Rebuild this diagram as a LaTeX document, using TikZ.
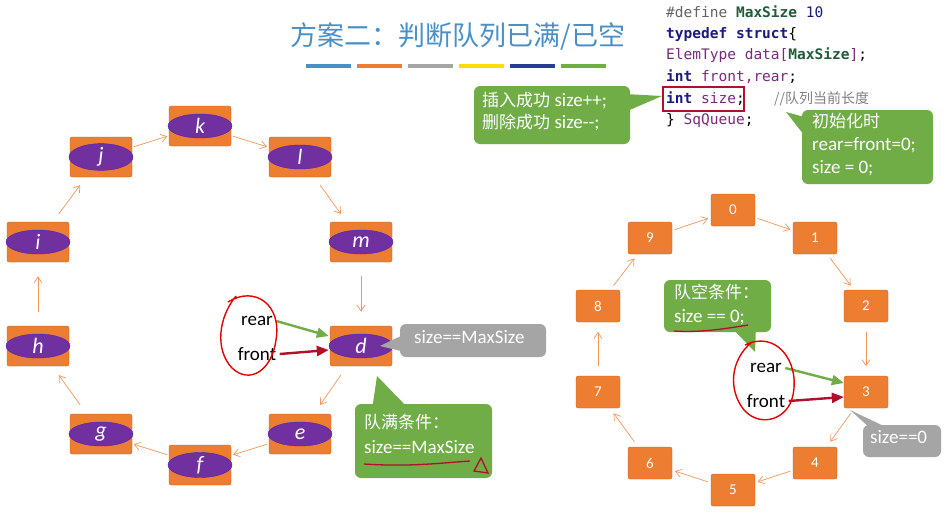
\documentclass[tikz,border=0pt]{standalone}
\usepackage{fontspec}
\setmainfont{Carlito}
\newfontfamily\cjk{Noto Sans CJK SC}
\newfontfamily\cmono{DejaVu Sans Mono}
\usetikzlibrary{arrows.meta,shapes.geometric,calc}
\definecolor{org}{HTML}{ED7D31}
\definecolor{pur}{HTML}{7030A0}
\definecolor{grn}{HTML}{70AD47}
\definecolor{gry}{HTML}{A5A5A5}
\definecolor{ttl}{HTML}{4A90C8}
\definecolor{kw}{HTML}{1A1A80}
\definecolor{vr}{HTML}{7A2A7A}
\definecolor{mc}{HTML}{1F5C3A}
\definecolor{dred}{HTML}{B0102A}
\newcommand\ct{\fontsize{19}{22}\selectfont}
\begin{document}
\begin{tikzpicture}[x=1pt,y=-1pt,
  box/.style={fill=org,draw=org!80!black,line width=0.3pt,rounded corners=2pt,minimum width=62pt,minimum height=40pt,inner sep=0},
  ell/.style={ellipse,fill=pur,draw=pur!70!blue,minimum width=64pt,minimum height=24pt,inner sep=0,text=white,font=\itshape\fontsize{22}{22}\selectfont},
  sbox/.style={fill=org,draw=org!80!black,line width=0.3pt,rounded corners=2pt,minimum width=44pt,minimum height=32pt,inner sep=0,text=white,font=\fontsize{15}{15}\selectfont},
  arr/.style={-{Straight Barb[length=6pt,width=8pt]},draw=org!80!white,line width=0.7pt},
  call/.style={rounded corners=6pt,line width=0.6pt},
  ctext/.style={text=white,font=\ct,align=left,inner sep=0,anchor=north west},
  code/.style={font=\cmono\fontsize{14.5}{14.5}\selectfont,anchor=west,inner sep=0},
  lab/.style={font=\fontsize{19}{19}\selectfont},
  rfarr/.style={-{Triangle[length=12pt,width=10pt]},line width=2.4pt}]
\useasboundingbox (0,0) rectangle (947,512);
\fill[white] (0,0) rectangle (947,512);
% title
\node[text=ttl,font=\cjk\fontsize{27}{27}\selectfont] (title) at (458,36) {方案二：判断队列已满/已空};
\foreach \x/\c in {306/ttl,357/org,408/gry,459/yellow!80!orange,510/kw!70!ttl,561/grn}
  \fill[\c] (\x,64) rectangle ++(45,4);
% left ring
\foreach \n/\x/\y in {k/200/126,l/300/157,m/361/242,d/361/346,e/300/434,f/200/465,g/101/434,h/38/346,i/38/242,j/101/157}{
  \node[box] (\n) at (\x,\y) {};
  \node[ell] (\n e) at (\x,\y) {\n};
}
\foreach \a/\b in {j/k,k/l,l/m,m/d,d/e,e/f,f/g,g/h,h/i,i/j}
  \draw[arr] ($(\a)!0.33!(\b)$) -- ($(\a)!0.67!(\b)$);
% right ring
\foreach \n/\x/\y in {0/733/210,1/815/238,2/866/306,3/866/392,4/815/463,5/733/490,6/650/463,7/598/392,8/598/306,9/650/238}
  \node[sbox] (r\n) at (\x,\y) {\n};
\foreach \a/\b in {9/0,0/1,1/2,2/3,3/4,4/5,5/6,6/7,7/8,8/9}
  \draw[arr] ($(r\a)!0.3!(r\b)$) -- ($(r\a)!0.7!(r\b)$);
% code
\node[code,text=gry!60!black] (c1) at (666,12) {\#define \textcolor{mc}{\bfseries MaxSize} \textcolor{kw}{10}};
\node[code,text=kw] (c2) at (666,34) {\bfseries typedef struct\mdseries\textcolor{black}{\{}};
\node[code,text=vr] (c3) at (666,55) {ElemType data[\textcolor{mc}{\bfseries MaxSize}]\textcolor{black}{;}};
\node[code,text=vr] (c4) at (666,77) {\textcolor{kw}{\bfseries int} front,rear\textcolor{black}{;}};
\node[code,text=vr] (c5) at (666,99) {\textcolor{kw}{\bfseries int} size\textcolor{black}{;}};
\node[anchor=west,inner sep=0,text=gray,font=\cjk\fontsize{14}{14}\selectfont] (cm) at (774,99) {//队列当前长度};
\node[code,text=vr] (c6) at (666,121) {\textcolor{black}{\}} SqQueue\textcolor{black}{;}};
\draw[dred,line width=1.5pt] (663,87) rectangle (744,111);
% callouts
\fill[grn,call] (474,86) rectangle (630,144);
\fill[grn] (625,94) -- (662,96) -- (625,112) -- cycle;
\node[ctext] (t1) at (482,92) {{\cjk\fontsize{17}{21}\selectfont 插入成功} size++;\\{\cjk\fontsize{17}{21}\selectfont 删除成功} size-{}-;};
\fill[grn,call] (802,110) rectangle (933,184);
\fill[grn] (786,112) -- (808,118) -- (808,140) -- cycle;
\node[ctext] (t2) at (812,113) {{\cjk\fontsize{17}{21}\selectfont 初始化时}\\[1pt]rear=front=0;\\[1pt]size = 0;};
\fill[gry,call] (400,324) rectangle (546,357);
\fill[gry] (380,346) -- (405,334) -- (405,352) -- cycle;
\node[ctext] (t3) at (414,330) {size==MaxSize};
\fill[grn,call] (355,404) rectangle (492,478);
\fill[grn] (377,376) -- (372,410) -- (410,410) -- cycle;
\node[ctext] (t4) at (364,414) {{\cjk\fontsize{17}{21}\selectfont 队满条件：}\\[3pt]size==MaxSize};
\draw[dred,line width=1.3pt] (364,464) .. controls (410,467) and (440,463) .. (470,461);
\draw[dred,line width=1.3pt] (474,471) -- (481,458) -- (488,473) -- cycle;
\fill[grn,call] (664,280) rectangle (771,332);
\fill[grn] (755,352) -- (730,326) -- (756,326) -- cycle;
\node[ctext] (t5) at (674,284) {{\cjk\fontsize{17}{21}\selectfont 队空条件：}\\[2pt]size == 0;};
\draw[dred,line width=1.3pt] (674,331) .. controls (700,333) and (730,328) .. (748,325);
\fill[gry,call] (863,425) rectangle (941,457);
\fill[gry] (850,410) -- (870,428) -- (888,428) -- cycle;
\node[ctext] (t6) at (870,430) {size==0};
% rear/front
\node[lab] (rl) at (257,321) {rear};
\node[lab] (fl) at (257,354) {front};
\draw[rfarr,grn] (rl.east) -- (de.west|-0,336);
\draw[rfarr,dred] (fl.east) -- (de.west|-0,350);
\draw[red!90!black,line width=1.4pt] (228,302) .. controls (255,285) and (282,305) .. (276,340) .. controls (272,370) and (250,385) .. (232,368) .. controls (215,350) and (218,318) .. (236,296);
\node[lab] (rr) at (766,368) {rear};
\node[lab] (fr) at (766,401) {front};
\draw[rfarr,grn] (rr.east) -- (r3.west|-0,383);
\draw[rfarr,dred] (fr.east) -- (r3.west|-0,397);
\draw[red!90!black,line width=1.4pt] (745,345) .. controls (775,330) and (800,360) .. (793,395) .. controls (788,420) and (760,428) .. (744,410) .. controls (728,390) and (730,360) .. (752,342);
\end{tikzpicture}
\end{document}
